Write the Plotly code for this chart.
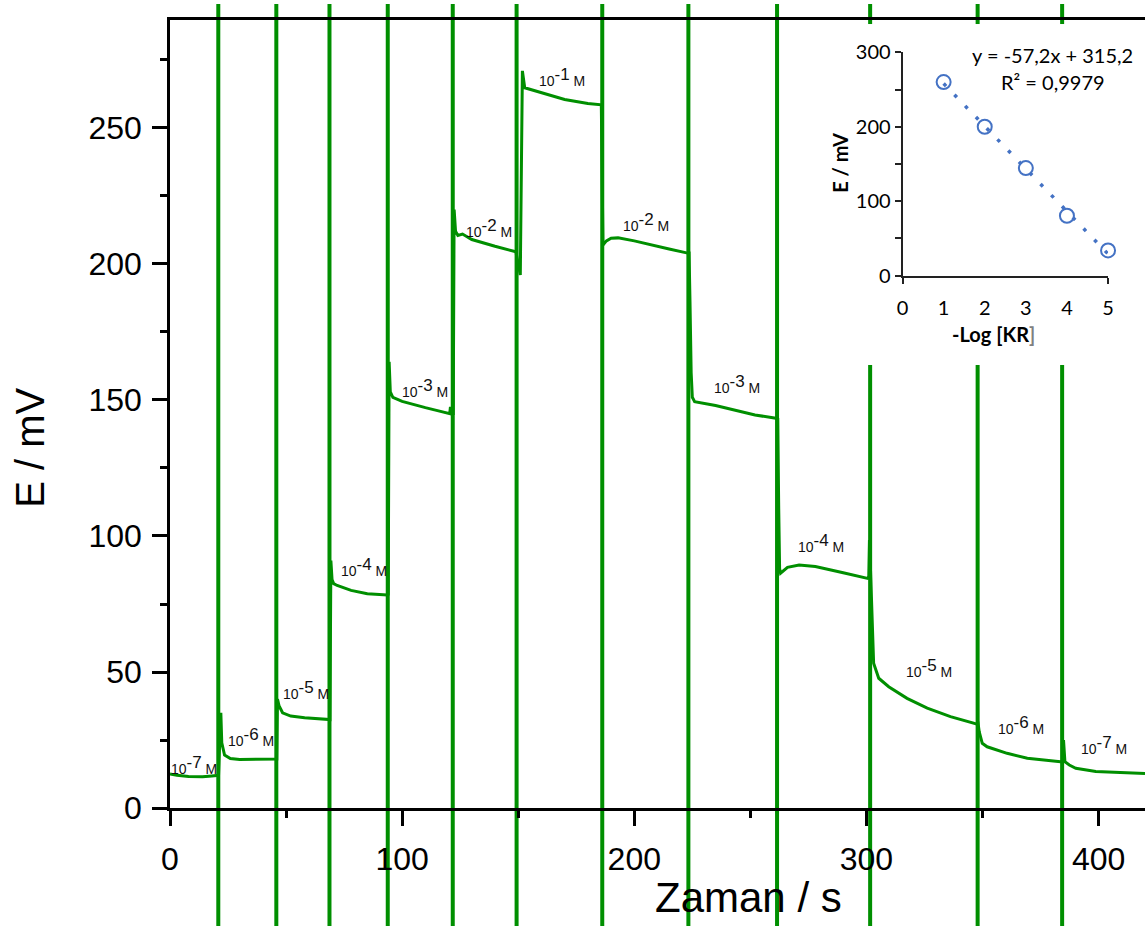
import plotly.graph_objects as go

# ---------------- data ----------------
time_s = [
    0, 3, 8, 14, 18, 20.6,
    20.9, 21.9, 22.3, 23.5, 26, 30, 40, 45.6,
    46.0, 46.3, 47.0, 48.5, 52, 58, 68.5,
    68.9, 69.3, 69.8, 70.5, 72, 78, 85, 93.6,
    94.0, 94.4, 94.9, 96, 100, 110, 118, 120.5, 120.8, 121.3,
    122.0, 122.4, 123, 124, 126, 130, 140, 149.0,
    150.9, 151.8, 152.8, 160, 170, 180, 185.8,
    186.5, 188, 190, 193, 200, 207, 215, 223.0,
    223.6, 224.0, 224.5, 225.0, 226, 235, 243, 252, 261.0,
    261.8, 262.2, 262.6, 263, 266, 271, 278, 290, 300.5, 301.0, 301.3,
    301.9, 302.3, 302.8, 303.1, 305.3, 309.6, 317.5, 326.2, 336.2, 347.0, 347.7,
    348.1, 348.6, 349.9, 352, 360.6, 369.3, 383.6,
    384.5, 384.9, 385.5, 387.4, 390.2, 398.8, 410, 420,
]
potential_mV = [
    12.5, 12.0, 11.6, 11.5, 11.8, 12.0,
    12.0, 35, 24, 19.5, 18.2, 17.8, 17.8, 18.0,
    18.0, 40, 37.5, 35, 33.8, 33.2, 32.4,
    32.5, 91, 84, 82.5, 81.8, 80, 78.8, 78.3,
    78.5, 164, 153, 151, 149.5, 147.2, 145.5, 145.0, 147.5, 145.0,
    145, 220, 212, 210.5, 211, 209, 206.5, 204.5,
    196, 271, 264.8, 263, 260.5, 259, 258.5,
    207, 208.5, 209.5, 209.6, 208.5, 207, 205.5, 204,
    204, 186, 160, 151, 149.4, 148, 146.3, 144.5, 143.3,
    143, 111, 88, 86.3, 88.5, 89.3, 88.8, 86.5, 84.4, 85, 98.5,
    84, 70, 58, 53.2, 47.7, 44.6, 40.3, 36.7, 33.6, 31.1, 30.8,
    31, 28, 23.8, 22.5, 20.1, 18.3, 17.0,
    17, 25, 17, 15.8, 14.6, 13.4, 13.0, 12.7,
]

# times at which the solution was changed (full-height vertical lines)
injection_times = [20.8, 45.8, 68.7, 93.8, 121.8, 149.3, 186.2, 223.3, 261.5, 301.6, 347.9, 384.3]

# concentration labels
label_exponents = ["-7", "-6", "-5", "-4", "-3", "-2", "-1", "-2", "-3", "-4", "-5", "-6", "-7"]
label_time = [10.3, 34.7, 58.4, 83.5, 109.9, 137.5, 169.0, 205.2, 244.2, 280.6, 326.9, 366.4, 402.3]
label_mV = [15.8, 26.2, 43.4, 88.7, 154.3, 213.2, 268.6, 215.5, 155.9, 97.3, 51.4, 30.5, 23.2]

# inset calibration
neg_log_conc = [1, 2, 3, 4, 5]
inset_E = [260, 200, 144.5, 80.5, 34]
fit_slope = -57.2
fit_intercept = 315.2
fit_r2 = "0,9979"
fit_x = [1, 5]

# ---------------- styles ----------------
GREEN = "#008F00"
BLUE = "#4472C4"
AX_FONT = "Liberation Sans, Arial, sans-serif"
IN_FONT = "Lato, Open Sans, sans-serif"

fig = go.Figure()

fig.add_trace(go.Scatter(
    x=time_s, y=potential_mV, mode="lines",
    line=dict(color=GREEN, width=3), showlegend=False, hoverinfo="skip",
    xaxis="x", yaxis="y"))

# empty trace creating the white "cover" subplot behind the inset
fig.add_trace(go.Scatter(x=[], y=[], xaxis="x2", yaxis="y2", showlegend=False, hoverinfo="skip"))

fit_y = [fit_slope * v + fit_intercept for v in fit_x]
fig.add_trace(go.Scatter(
    x=fit_x, y=fit_y, mode="lines",
    line=dict(color=BLUE, width=3.5, dash="3.5px,12px"),
    showlegend=False, hoverinfo="skip", xaxis="x3", yaxis="y3"))
fig.add_trace(go.Scatter(
    x=neg_log_conc, y=inset_E, mode="markers",
    marker=dict(symbol="circle-open", size=14, color=BLUE, line=dict(width=2, color=BLUE)),
    showlegend=False, hoverinfo="skip", cliponaxis=False, xaxis="x3", yaxis="y3"))

shapes = []
for t in injection_times:
    shapes.append(dict(type="line", xref="x", yref="paper", x0=t, x1=t, y0=-0.17, y1=1.0203,
                       line=dict(color=GREEN, width=4), layer="below"))

annotations = []
for e, tx, ty in zip(label_exponents, label_time, label_mV):
    annotations.append(dict(
        x=tx, y=ty, xref="x", yref="y", showarrow=False,
        text="10<sup><span style='font-size:17px'>" + e + "</span></sup> M",
        font=dict(family=AX_FONT, size=14, color="#111"),
        xanchor="center", yanchor="middle"))

annotations += [
    dict(text="Zaman / s", x=0.593, y=-0.1142, xref="paper", yref="paper", showarrow=False,
         font=dict(family=AX_FONT, size=42, color="black"), xanchor="center", yanchor="middle"),
    dict(text="E / mV", x=-0.1436, y=0.457, xref="paper", yref="paper", showarrow=False, textangle=-90,
         font=dict(family=AX_FONT, size=40, color="black"), xanchor="center", yanchor="middle"),
    dict(text="<b>E / mV</b>", x=0.687, y=0.8185, xref="paper", yref="paper", showarrow=False, textangle=-90,
         font=dict(family=IN_FONT, size=20, color="black"), xanchor="center", yanchor="middle"),
    dict(text="<b>-Log [KR<span style='color:#808080'>]</span></b>", x=0.845, y=0.6015, xref="paper",
         yref="paper", showarrow=False,
         font=dict(family=IN_FONT, size=20, color="black"), xanchor="center", yanchor="middle"),
    dict(text="y = %s%sx + %s" % ("-", str(abs(fit_slope)).replace(".", ","), str(fit_intercept).replace(".", ",")),
         x=0.9056, y=0.9556, xref="paper", yref="paper", showarrow=False,
         font=dict(family=IN_FONT, size=20, color="black"), xanchor="center", yanchor="middle"),
    dict(text="R² = " + fit_r2, x=0.9056, y=0.9213, xref="paper", yref="paper", showarrow=False,
         font=dict(family=IN_FONT, size=20, color="black"), xanchor="center", yanchor="middle"),
]

main_axis = dict(showline=True, linecolor="black", linewidth=2.5, ticks="outside", ticklen=15,
                 tickwidth=2.5, tickcolor="black", showgrid=False, zeroline=False, automargin=False,
                 tickfont=dict(family=AX_FONT, size=32, color="black"))

fig.update_layout(
    width=1145, height=926,
    margin=dict(l=170, r=0, t=20, b=118),
    paper_bgcolor="white", plot_bgcolor="white",
    showlegend=False,
    xaxis=dict(main_axis, range=[0, 420], domain=[0, 1], anchor="y", dtick=100, tick0=0, mirror=True,
               ticklabelstandoff=6,
               minor=dict(dtick=50, ticks="outside", ticklen=7, tickwidth=2.5, tickcolor="black")),
    yaxis=dict(main_axis, range=[0, 289.7], domain=[0, 1], anchor="x", dtick=50, tick0=0,
               ticklabelstandoff=4,
               minor=dict(dtick=25, ticks="outside", ticklen=7, tickwidth=2.5, tickcolor="black")),
    xaxis2=dict(domain=[0.6615, 1.0], anchor="y2", range=[0, 1], visible=False, fixedrange=True),
    yaxis2=dict(domain=[0.5622, 0.9949], anchor="x2", range=[0, 1], visible=False, fixedrange=True),
    xaxis3=dict(domain=[0.7513, 0.9621], anchor="y3", range=[0, 5], dtick=1, tick0=0,
                showline=True, linecolor="#222", linewidth=1.8, ticks="", showgrid=False, zeroline=False,
                ticklabelstandoff=13, automargin=False,
                tickfont=dict(family=IN_FONT, size=20, color="black"),
                minor=dict(tickmode="array", tickvals=[0, 5], ticks="outside", ticklen=6,
                           tickwidth=1.8, tickcolor="#222")),
    yaxis3=dict(domain=[0.6755, 0.9590], anchor="x3", range=[0, 300], dtick=100, tick0=0,
                showline=True, linecolor="#222", linewidth=1.8, ticks="outside", ticklen=6,
                tickwidth=1.8, tickcolor="#222", showgrid=False, zeroline=False, automargin=False,
                tickfont=dict(family=IN_FONT, size=20, color="black"),
                minor=dict(dtick=50, ticks="outside", ticklen=6, tickwidth=1.8, tickcolor="#222")),
    shapes=shapes,
    annotations=annotations,
)

fig.write_html("out.html", config={"displayModeBar": False},
               post_script="document.body.style.margin='0px';document.body.style.overflow='hidden';")
